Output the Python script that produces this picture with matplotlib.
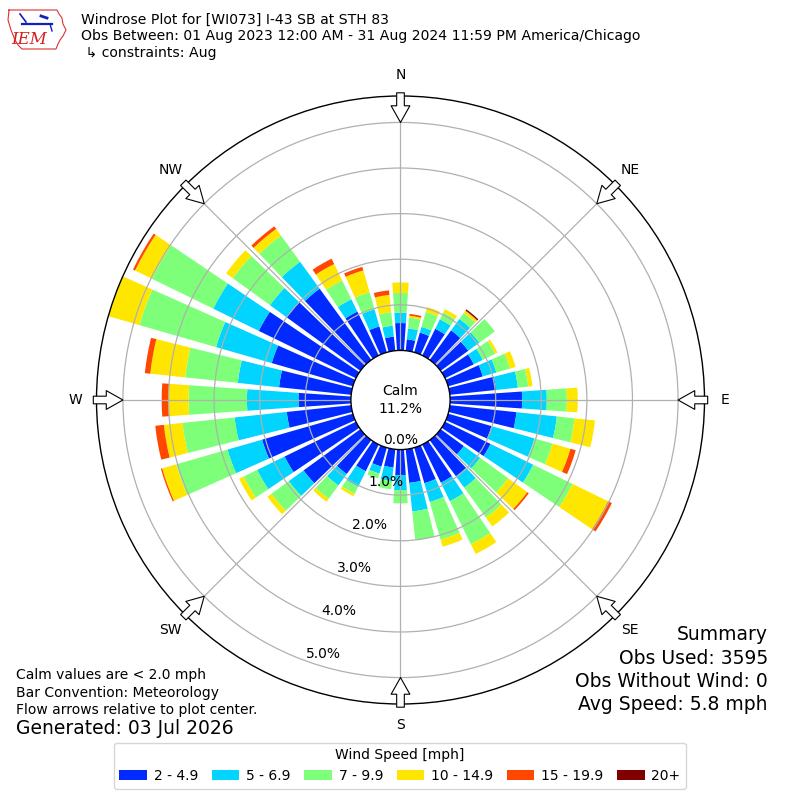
import numpy as np
import matplotlib
matplotlib.use("Agg")
import matplotlib.pyplot as plt
from matplotlib.patches import Patch
from matplotlib.lines import Line2D

# ---------------- data ----------------
directions = list(range(0, 360, 10))
speed_labels = ["2 - 4.9", "5 - 6.9", "7 - 9.9", "10 - 14.9", "15 - 19.9", "20+"]
speed_colors = ["#002aff", "#00d4ff", "#7dff7a", "#ffe600", "#ff4700", "#800000"]

# percent of observations per direction (0,10,...,350 deg) for each speed bin
pct_2_5 = [0.60, 0.25, 0.45, 0.65, 0.80, 0.75, 0.70, 0.79, 1.02, 1.58,
           1.47, 0.99, 1.11, 0.63, 0.98, 0.93, 0.81, 0.74, 0.56, 0.40,
           0.43, 0.65, 0.92, 1.54, 1.74, 2.07, 1.42, 1.15, 1.59, 1.85,
           2.37, 2.00, 1.93, 1.07, 0.59, 0.31]
pct_5_7 = [0.23, 0.24, 0.13, 0.23, 0.31, 0.30, 0.22, 0.31, 0.48, 0.54,
           0.89, 0.98, 1.04, 0.44, 0.31, 0.45, 0.43, 0.63, 0.33, 0.30,
           0.16, 0.38, 0.31, 0.40, 0.67, 0.79, 1.15, 1.13, 0.91, 1.27,
           1.11, 0.45, 0.73, 0.30, 0.39, 0.24]
pct_7_10 = [0.43, 0.24, 0.34, 0.17, 0.16, 0.42, 0.30, 0.31, 0.23, 0.44,
            0.39, 0.41, 0.96, 0.76, 0.81, 1.05, 0.86, 0.63, 0.29, 0.18,
            0.11, 0.17, 0.36, 0.47, 0.33, 1.17, 1.15, 1.28, 1.16, 1.75,
            1.50, 1.01, 0.71, 0.46, 0.39, 0.30]
pct_10_15 = [0.23, 0.04, 0.11, 0.08, 0.06, 0.00, 0.06, 0.13, 0.09, 0.24,
             0.45, 0.41, 0.87, 0.52, 0.24, 0.24, 0.16, 0.00, 0.00, 0.00,
             0.00, 0.06, 0.08, 0.11, 0.11, 0.32, 0.41, 0.44, 0.77, 0.71,
             0.41, 0.18, 0.18, 0.40, 0.50, 0.38]
pct_15_20 = [0.00, 0.04, 0.00, 0.00, 0.01, 0.00, 0.00, 0.00, 0.00, 0.00,
             0.00, 0.12, 0.09, 0.04, 0.00, 0.00, 0.00, 0.00, 0.00, 0.00,
             0.00, 0.00, 0.00, 0.00, 0.00, 0.03, 0.19, 0.15, 0.12, 0.00,
             0.05, 0.00, 0.07, 0.13, 0.08, 0.10]
pct_20p = [0.00, 0.00, 0.00, 0.00, 0.03, 0.00, 0.00, 0.00, 0.00, 0.00,
           0.00, 0.00, 0.00, 0.00, 0.00, 0.00, 0.00, 0.00, 0.00, 0.00,
           0.00, 0.00, 0.00, 0.00, 0.00, 0.00, 0.00, 0.00, 0.00, 0.00,
           0.00, 0.00, 0.00, 0.00, 0.00, 0.00]
speed_bins = [pct_2_5, pct_5_7, pct_7_10, pct_10_15, pct_15_20, pct_20p]

calm_pct = 11.2
ring_values = [0, 1, 2, 3, 4, 5]
compass_angles = [0, 45, 90, 135, 180, 225, 270, 315]
compass_labels = ["N", "NE", "E", "SE", "S", "SW", "W", "NW"]

title_lines = ["Windrose Plot for [WI073] I-43 SB at STH 83",
               "Obs Between: 01 Aug 2023 12:00 AM - 31 Aug 2024 11:59 PM America/Chicago",
               " \u21b3 constraints: Aug"]
notes = ["Calm values are < 2.0 mph", "Bar Convention: Meteorology",
         "Flow arrows relative to plot center."]
generated = "Generated: 03 Jul 2026"
summary = ["Summary", "Obs Used: 3595", "Obs Without Wind: 0", "Avg Speed: 5.8 mph"]

# ---------------- figure ----------------
W = H = 800
fig = plt.figure(figsize=(8, 8), dpi=100)

R_PX = 304.0
CX, CY = 400.5, 400.0
ax = fig.add_axes([(CX - R_PX) / W, (H - CY - R_PX) / H, 2 * R_PX / W, 2 * R_PX / H],
                  projection="polar")
ax.set_theta_zero_location("N")
ax.set_theta_direction(-1)

totals = np.sum(np.array(speed_bins), axis=0)
rmax = float(totals.max())
ax.set_ylim(0, rmax)
ax.set_rorigin(-1.088)

theta = np.deg2rad(directions)
bottom = np.zeros(len(directions))
for vals, col in zip(speed_bins, speed_colors):
    vals = np.array(vals)
    ax.bar(theta, vals, width=np.deg2rad(8), bottom=bottom, color=col,
           edgecolor="none", align="center", zorder=1)
    bottom = bottom + vals

ax.set_thetagrids(compass_angles, labels=[""] * len(compass_angles))
ax.set_rgrids(ring_values[1:], labels=[""] * (len(ring_values) - 1))
ax.grid(True, color="#b0b0b0", linewidth=0.9)
ax.spines["polar"].set_color("black")
ax.spines["polar"].set_linewidth(1.0)
ax.spines["inner"].set_visible(True)
ax.spines["inner"].set_color("black")
ax.spines["inner"].set_linewidth(1.0)

# radial labels
for k in ring_values:
    ax.text(np.deg2rad(200), k, f"{k:.1f}%", ha="left", va="bottom", fontsize=10, zorder=5)

# compass labels and flow arrows (pointing toward the plot center)
for ang, lab in zip(compass_angles, compass_labels):
    t = np.deg2rad(ang)
    ax.text(t, rmax + 0.46, lab, ha="center", va="center", fontsize=10, clip_on=False)
    ax.annotate("", xy=(t, 5.0), xytext=(t, rmax + 0.07),
                arrowprops=dict(arrowstyle="simple,head_length=1.2,head_width=1.35,tail_width=0.55",
                                fc="white", ec="black", lw=0.8, shrinkA=0, shrinkB=0),
                annotation_clip=False, zorder=6)

ax.text(0.5, 0.5, f"Calm\n{calm_pct:.1f}%", transform=ax.transAxes, ha="center",
        va="center", fontsize=10, linespacing=1.35)

# ---------------- texts ----------------
fig.text(81 / W, 1 - 12.5 / H, "\n".join(title_lines), ha="left", va="top",
         fontsize=10.1, linespacing=1.25)

for i, line in enumerate(notes):
    fig.text(16 / W, 1 - (675 + i * 17.5) / H, line, ha="left", va="center", fontsize=10)
fig.text(16 / W, 1 - 728 / H, generated, ha="left", va="center", fontsize=13.5)

for i, line in enumerate(summary):
    fig.text(768 / W, 1 - (635 + i * 23.3) / H, line, ha="right", va="center", fontsize=13.5)

# ---------------- logo (approximation) ----------------
iowa_x = [9, 57, 59, 62, 63, 66, 63, 60, 58, 56, 22, 18, 15, 11, 8, 9]
iowa_y = [10, 10, 14, 18, 24, 30, 36, 40, 44, 49, 49, 45, 40, 30, 20, 10]
fig.add_artist(Line2D([x / W for x in iowa_x], [1 - y / H for y in iowa_y],
                      color="#e03030", lw=0.8, transform=fig.transFigure))
fig.add_artist(Line2D([22 / W, 52 / W], [1 - 24 / H, 1 - 24 / H], color="#1020c0",
                      lw=1.6, transform=fig.transFigure))
fig.add_artist(Line2D([20 / W, 26 / W], [1 - 14 / H, 1 - 22 / H], color="#1020c0",
                      lw=1.2, transform=fig.transFigure))
fig.add_artist(Line2D([41 / W, 47 / W], [1 - 16 / H, 1 - 18 / H], color="#1020c0",
                      lw=2.0, transform=fig.transFigure))
fig.add_artist(Line2D([50 / W, 52 / W], [1 - 24 / H, 1 - 31 / H], color="#1020c0",
                      lw=1.0, transform=fig.transFigure))
fig.text(29 / W, 1 - 39 / H, "IEM", color="#d42020", fontsize=12, style="italic",
         family="DejaVu Serif", ha="center", va="center")

# ---------------- legend ----------------
handles = [Patch(facecolor=c, edgecolor="none") for c in speed_colors]
leg = fig.legend(handles, speed_labels, ncol=6, loc="lower center",
                 bbox_to_anchor=(0.5, 0.0055), title="Wind Speed [mph]", fontsize=10,
                 title_fontsize=10, handletextpad=0.5, columnspacing=0.95, frameon=True)
leg.get_frame().set_edgecolor("#cccccc")

fig.savefig("out.png", dpi=100)
